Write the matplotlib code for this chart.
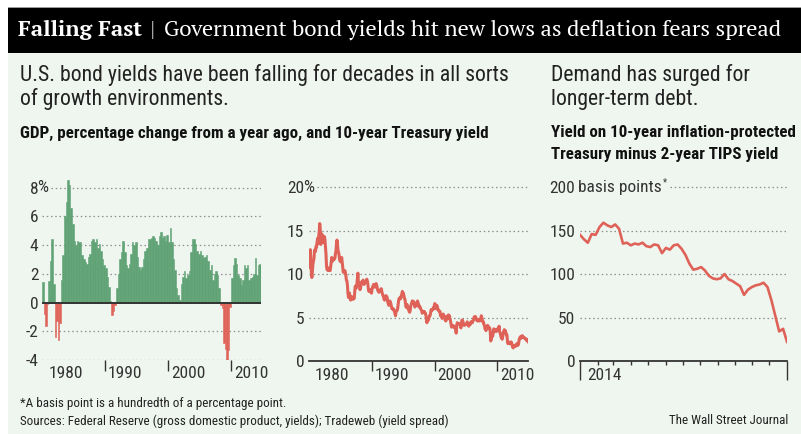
import numpy as np
import pandas as pd
import matplotlib
matplotlib.use("Agg")
import matplotlib.pyplot as plt
import matplotlib.dates as mdates
from matplotlib import font_manager
from matplotlib.patches import Rectangle
from matplotlib.transforms import offset_copy, blended_transform_factory

# ---- data ----
# US real GDP, % change from a year ago, quarterly from 1980Q1 to 2014Q3
gdp_start = 1980.0
gdp_growth = [
    1.4, -0.8, -1.6, -0.1,   # 1980
    1.5, 2.9, 4.4, 1.3,      # 1981
    -2.4, -1.3, -2.6, -1.4,  # 1982
    1.6, 3.3, 6.0, 7.0,      # 1983
    8.5, 8.2, 6.6, 5.5,      # 1984
    4.3, 4.0, 4.3, 4.2,      # 1985
    4.2, 3.3, 3.0, 2.8,      # 1986
    2.7, 3.2, 3.4, 4.3,      # 1987
    4.4, 4.2, 4.4, 3.8,      # 1988
    4.1, 3.6, 3.0, 2.6,      # 1989
    2.4, 1.8, 1.1, 0.1,      # 1990
    -0.9, -0.6, -0.2, 1.0,   # 1991
    2.0, 3.0, 3.5, 4.3,      # 1992
    3.5, 2.6, 2.4, 2.7,      # 1993
    3.4, 4.2, 4.0, 4.2,      # 1994
    3.2, 2.5, 2.3, 2.5,      # 1995
    3.0, 3.6, 3.8, 4.4,      # 1996
    4.4, 4.5, 4.6, 4.5,      # 1997
    4.3, 4.0, 4.6, 4.9,      # 1998
    4.5, 4.6, 4.3, 4.7,      # 1999
    4.2, 5.2, 4.2, 3.0,      # 2000
    2.3, 1.0, 0.5, 0.2,      # 2001
    1.3, 1.8, 2.2, 1.7,      # 2002
    1.9, 2.2, 3.5, 4.4,      # 2003
    4.4, 4.1, 3.6, 3.4,      # 2004
    3.6, 3.3, 3.1, 3.2,      # 2005
    3.3, 2.9, 2.3, 2.6,      # 2006
    1.6, 2.0, 2.2, 1.9,      # 2007
    1.0, -0.2, -0.4, -2.8,   # 2008
    -3.2, -4.1, -3.3, -0.3,  # 2009
    1.7, 2.6, 3.1, 2.7,      # 2010
    1.9, 1.7, 1.2, 1.6,      # 2011
    2.6, 2.4, 2.6, 1.6,      # 2012
    1.7, 1.8, 2.0, 3.1,      # 2013
    1.9, 2.6, 2.7,           # 2014
]

# 10-year Treasury yield, %, monthly 1980-2014
tsy_start = 1980.0
tsy_10y = [
    10.8, 12.4, 12.8, 11.5, 10.2, 9.6, 10.3, 11.1, 11.5, 11.8, 12.7, 12.8,
    12.6, 13.2, 13.1, 13.7, 14.1, 13.5, 14.3, 14.9, 15.8, 15.2, 13.4, 13.7,
    14.6, 14.4, 13.9, 13.9, 13.6, 14.3, 13.9, 13.1, 12.3, 10.9, 10.5, 10.5,
    10.4, 10.7, 10.5, 10.4, 10.4, 10.9, 11.4, 11.9, 11.6, 11.5, 11.7, 11.8,
    11.7, 11.8, 12.3, 12.6, 13.4, 13.9, 13.4, 12.7, 12.5, 12.2, 11.6, 11.5,
    11.4, 11.5, 11.9, 11.4, 10.8, 10.2, 10.3, 10.3, 10.4, 10.2, 9.8, 9.3,
    9.2, 8.7, 7.8, 7.3, 7.7, 7.8, 7.3, 7.0, 7.4, 7.4, 7.2, 7.1,
    7.1, 7.2, 7.2, 8.0, 8.6, 8.4, 8.4, 8.8, 9.4, 10.1, 8.9, 9.0,
    8.7, 8.2, 8.4, 8.7, 9.1, 8.9, 9.1, 9.3, 9.0, 8.8, 9.0, 9.1,
    9.1, 9.2, 9.4, 9.2, 8.9, 8.3, 8.0, 8.1, 8.2, 8.0, 7.9, 7.8,
    8.2, 8.5, 8.6, 8.8, 8.8, 8.5, 8.5, 8.8, 8.9, 8.7, 8.4, 8.1,
    8.1, 7.9, 8.1, 8.0, 8.1, 8.3, 8.3, 7.9, 7.7, 7.5, 7.4, 7.1,
    7.0, 7.3, 7.5, 7.5, 7.4, 7.3, 6.8, 6.6, 6.4, 6.6, 6.9, 6.8,
    6.6, 6.3, 6.0, 6.0, 6.0, 6.0, 5.8, 5.7, 5.4, 5.2, 5.7, 5.8,
    5.8, 6.0, 6.5, 7.0, 7.2, 7.1, 7.3, 7.2, 7.5, 7.7, 8.0, 7.8,
    7.8, 7.5, 7.2, 7.1, 6.6, 6.2, 6.3, 6.5, 6.2, 6.0, 5.9, 5.7,
    5.6, 5.8, 6.3, 6.5, 6.7, 6.9, 6.9, 6.6, 6.8, 6.5, 6.2, 6.3,
    6.6, 6.4, 6.7, 6.9, 6.7, 6.5, 6.2, 6.3, 6.2, 6.0, 5.9, 5.8,
    5.5, 5.6, 5.7, 5.6, 5.7, 5.5, 5.5, 5.3, 4.8, 4.4, 4.8, 4.7,
    4.7, 5.0, 5.2, 5.2, 5.5, 5.9, 5.8, 5.9, 5.9, 6.1, 6.0, 6.3,
    6.6, 6.5, 6.3, 6.0, 6.4, 6.1, 6.0, 5.8, 5.8, 5.7, 5.7, 5.2,
    5.2, 5.1, 4.9, 5.1, 5.4, 5.3, 5.2, 5.0, 4.7, 4.6, 4.7, 5.1,
    5.0, 4.9, 5.3, 5.2, 5.2, 4.9, 4.6, 4.3, 3.9, 3.9, 4.1, 4.0,
    4.0, 3.9, 3.8, 4.0, 3.6, 3.2, 4.0, 4.4, 4.3, 4.3, 4.3, 4.3,
    4.2, 4.1, 3.8, 4.4, 4.7, 4.7, 4.5, 4.3, 4.1, 4.1, 4.2, 4.2,
    4.2, 4.2, 4.5, 4.3, 4.1, 4.0, 4.2, 4.3, 4.2, 4.5, 4.5, 4.5,
    4.4, 4.6, 4.7, 5.0, 5.1, 5.1, 5.1, 4.9, 4.7, 4.7, 4.6, 4.6,
    4.8, 4.7, 4.6, 4.7, 4.8, 5.2, 5.0, 4.7, 4.5, 4.5, 4.2, 4.1,
    3.7, 3.7, 3.5, 3.7, 3.9, 4.1, 4.0, 3.9, 3.7, 3.8, 3.5, 2.3,
    2.5, 2.9, 2.8, 2.9, 3.3, 3.7, 3.6, 3.6, 3.4, 3.4, 3.4, 3.6,
    3.7, 3.7, 3.7, 4.0, 3.4, 3.2, 3.0, 2.7, 2.6, 2.5, 2.8, 3.3,
    3.4, 3.6, 3.4, 3.5, 3.2, 3.0, 3.0, 2.3, 2.0, 2.2, 2.0, 2.0,
    2.0, 2.0, 2.2, 2.1, 1.8, 1.6, 1.5, 1.7, 1.7, 1.8, 1.7, 1.7,
    1.9, 2.0, 2.0, 1.8, 1.9, 2.3, 2.6, 2.7, 2.8, 2.6, 2.7, 2.9,
    2.9, 2.7, 2.7, 2.7, 2.6, 2.6, 2.5, 2.4, 2.5, 2.3, 2.3, 2.2,
]

# 10-yr TIPS yield minus 2-yr TIPS yield, basis points, weekly through 2014
spread_first, spread_last = "2014-01-01", "2015-01-01"
spread_bp = [
    145, 140, 136, 146, 145, 154, 159, 156, 154, 157, 152, 135,
    136, 133, 135, 134, 136, 132, 131, 134, 133, 124, 130, 128,
    133, 134, 129, 122, 112, 105, 106, 108, 104, 98, 95, 94,
    95, 100, 94, 92, 89, 86, 76, 82, 85, 87, 88, 90,
    85, 70, 52, 34, 37, 22,
]

# ---- styling ----
W, H = 801, 434
BG = "#eff6ef"
GREEN = "#5fa274"
RED = "#df6259"
GRID = "#8f8f8f"
DARK = "#333333"
INK = "#222222"

fonts = font_manager.fontManager.ttflist


def weight_of(f):
    w = f.weight
    return w if isinstance(w, int) else font_manager.weight_dict.get(w, 400)


def pick(cands):
    # first family that has both a regular and a bold face
    for c in cands:
        ws = {weight_of(f) for f in fonts if f.name == c and f.style == "normal"}
        if ws and max(ws) >= 700 and min(ws) <= 400:
            return c
    return cands[-1]


SANS = pick(["Roboto Condensed", "Liberation Sans Narrow", "Fira Sans Condensed",
             "PT Sans Narrow", "Archivo Narrow", "IBM Plex Sans Condensed", "Roboto", "DejaVu Sans"])
SERIF = pick(["PT Serif", "Noto Serif", "Source Serif Pro", "Merriweather", "Liberation Serif",
              "DejaVu Serif"])
plt.rcParams["font.family"] = [SANS, "DejaVu Sans"]

fig = plt.figure(figsize=(W / 100, H / 100), dpi=100)
fig.patch.set_facecolor("white")
R = fig.canvas.get_renderer()


def rect(x0, y0, x1, y1):
    # pixel box measured from top-left -> figure fraction
    return [x0 / W, 1 - y1 / H, (x1 - x0) / W, (y1 - y0) / H]


def width_at10(s, **kw):
    t = fig.text(0, 0, s, fontsize=10, **kw)
    w = t.get_window_extent(R).width
    t.remove()
    return w


def fit(s, target_px, **kw):
    return 10 * target_px / width_at10(s, **kw)


fig.patches.append(Rectangle((8 / W, 0), 1, 1 - 53 / H, transform=fig.transFigure,
                             facecolor=BG, edgecolor="none", zorder=-10))
fig.patches.append(Rectangle((8 / W, 1 - 53 / H), 1, 45 / H, transform=fig.transFigure,
                             facecolor="black", edgecolor="none", zorder=-10))
fig.patches.append(Rectangle((8 / W, 1 - 8 / H), 1, 1.2 / H, transform=fig.transFigure,
                             facecolor="#9a9a9a", edgecolor="none", zorder=-10))


def ftext(x, y, s, **kw):
    return fig.text(x / W, 1 - y / H, s, va="center", **kw)


# headline, sized to run from x=18 to x=783
head_a = "Falling Fast"
head_b = "Government bond yields hit new lows as deflation fears spread"
wa = width_at10(head_a, family=SERIF, fontweight="bold")
wb = width_at10(head_b, family=SERIF)
fs_head = 10 * (783 - 18 - 22) / (wa + wb)
t1 = ftext(18, 30, head_a, color="white", fontsize=fs_head, fontweight="bold", family=SERIF)
x_end = t1.get_window_extent(R).x1
ftext(x_end + 8, 30, "|", color="#bbbbbb", fontsize=fs_head, family=SERIF)
ftext(x_end + 22, 30, head_b, color="white", fontsize=fs_head, family=SERIF)

# sub heads
sub1 = "U.S. bond yields have been falling for decades in all sorts"
fs_sub = fit(sub1, 488)
ftext(20, 75, sub1, fontsize=fs_sub, color=INK)
ftext(20, 99, "of growth environments.", fontsize=fs_sub, color=INK)
ftext(551, 75, "Demand has surged for", fontsize=fs_sub, color=INK)
ftext(551, 99, "longer-term debt.", fontsize=fs_sub, color=INK)

lab1 = "GDP, percentage change from a year ago, and 10-year Treasury yield"
lab2 = "Yield on 10-year inflation-protected"
fs_lab = min(fit(lab1, 488, fontweight="bold"), fit(lab2, 244, fontweight="bold"))
ftext(20, 133, lab1, fontsize=fs_lab, fontweight="bold", color="#111111")
ftext(551, 133, lab2, fontsize=fs_lab, fontweight="bold", color="#111111")
ftext(551, 155, "Treasury minus 2-year TIPS yield", fontsize=fs_lab, fontweight="bold", color="#111111")

# footer
src = "Sources: Federal Reserve (gross domestic product, yields); Tradeweb (yield spread)"
fs_foot = fit(src, 425)
ftext(20, 403, "*A basis point is a hundredth of a percentage point.", fontsize=fs_foot, color=INK)
ftext(20, 421, src, fontsize=fs_foot, color=INK)
fig.text(788 / W, 1 - 421 / H, "The Wall Street Journal", fontsize=fs_foot, color=INK,
         ha="right", va="center")

TICK_FS = 12.5
GRID_LS = (0, (1.2, 2.2))


def base_axes(box, pad):
    ax = fig.add_axes(rect(*box))
    ax.set_facecolor("none")
    for s in ax.spines.values():
        s.set_visible(False)
    ax.tick_params(axis="y", length=0, pad=pad, labelsize=TICK_FS, labelcolor=DARK)
    ax.tick_params(axis="x", which="both", direction="out", color=DARK, width=1,
                   labelbottom=False)
    return ax


def dotted(ax, levels):
    lo, hi = ax.get_xlim()
    for v in levels:
        ax.hlines(v, lo, hi, color=GRID, lw=0.9, linestyles=GRID_LS, zorder=0)


def unit_after_top(ax, top, text, pad, star=False):
    # unit text placed right after the top tick label, dotted line starts after it
    tr = offset_copy(blended_transform_factory(ax.transAxes, ax.transData), fig=fig,
                     x=-pad * 100 / 72 - 1.5, y=0, units="dots")
    t = ax.text(0, top, text, transform=tr, ha="left", va="center", fontsize=TICK_FS, color=DARK)
    bb = t.get_window_extent(R)
    x1 = bb.x1
    if star:
        s = fig.text((bb.x1 + 1) / W, (bb.y1 - 3) / H, "*", fontsize=TICK_FS * 0.55,
                     color=DARK, ha="left", va="center")
        x1 = s.get_window_extent(R).x1
    x0 = ax.transData.inverted().transform((x1 + 3, 0))[0]
    ax.hlines(top, x0, ax.get_xlim()[1], color=GRID, lw=0.9, linestyles=GRID_LS, zorder=0)


def year_labels(ax, years, first_dx=7, dx=3, dy=-14):
    for i, yr in enumerate(years):
        tr = offset_copy(blended_transform_factory(ax.transData, ax.transAxes), fig=fig,
                         x=first_dx if i == 0 else dx, y=dy, units="dots")
        ax.text(yr, 0, str(yr), transform=tr, ha="left", va="center", fontsize=TICK_FS, color=DARK)


# ---- left: GDP bars ----
ax1 = base_axes((42, 179, 261, 360), pad=2.5)
gx = gdp_start + 0.25 * np.arange(len(gdp_growth))
gcol = [GREEN if v >= 0 else RED for v in gdp_growth]
ax1.bar(gx, gdp_growth, width=0.25, align="edge", color=gcol, edgecolor=gcol,
        linewidth=0.4, zorder=2)
ax1.set_xlim(1980, 2014.75)
ax1.set_ylim(-4, 8.6)
ax1.axhline(0, color=DARK, lw=1.4, zorder=3)
dotted(ax1, [-4, -2, 2, 4, 6])
ax1.set_yticks([-4, -2, 0, 2, 4, 6, 8])
ax1.set_yticklabels(["-4", "-2", "0", "2", "4", "6", "8"])
ax1.set_xticks([1990, 2000, 2010])
ax1.tick_params(axis="x", length=8)
year_labels(ax1, [1980, 1990, 2000, 2010])
unit_after_top(ax1, 8, "%", pad=2.5)

# ---- middle: 10-year Treasury yield ----
ax2 = base_axes((309, 185.3, 528, 361), pad=3.5)
tx = tsy_start + (np.arange(len(tsy_10y)) + 0.5) / 12
ax2.plot(tx, tsy_10y, color=RED, lw=2.2, solid_joinstyle="round", zorder=3)
ax2.set_xlim(1980, 2014.9)
ax2.set_ylim(0, 20.2)
ax2.spines["bottom"].set_visible(True)
ax2.spines["bottom"].set_color(DARK)
ax2.spines["bottom"].set_linewidth(1.3)
dotted(ax2, [5, 10, 15])
ax2.set_yticks([0, 5, 10, 15, 20])
ax2.set_xticks([1990, 2000, 2010])
ax2.tick_params(axis="x", length=7)
year_labels(ax2, [1980, 1990, 2000, 2010], first_dx=6, dy=-14)
unit_after_top(ax2, 20, "%", pad=3.5)

# ---- right: TIPS spread ----
ax3 = base_axes((580, 185.3, 787, 361), pad=3.5)
sd = pd.date_range(spread_first, spread_last, periods=len(spread_bp))
ax3.plot(sd, spread_bp, color=RED, lw=1.9, solid_joinstyle="round", zorder=3)
d0 = mdates.date2num(pd.Timestamp(spread_first))
d1 = mdates.date2num(pd.Timestamp(spread_last))
ax3.set_xlim(d0, d1)
ax3.set_ylim(0, 202)
ax3.spines["bottom"].set_visible(True)
ax3.spines["bottom"].set_color(DARK)
ax3.spines["bottom"].set_linewidth(1.3)
dotted(ax3, [50, 100, 150])
ax3.set_yticks([0, 50, 100, 150, 200])
ax3.set_xticks([d0, d1])
ax3.xaxis.set_minor_locator(mdates.MonthLocator(bymonth=range(2, 13)))
ax3.tick_params(axis="x", which="major", length=14)
ax3.tick_params(axis="x", which="minor", length=3)
tr3 = offset_copy(blended_transform_factory(ax3.transData, ax3.transAxes), fig=fig,
                  x=7, y=-15, units="dots")
ax3.text(d0, 0, "2014", transform=tr3, ha="left", va="center", fontsize=TICK_FS, color=DARK)
unit_after_top(ax3, 200, " basis points", pad=3.5, star=True)

fig.savefig("out.png", dpi=100, facecolor=fig.get_facecolor())
